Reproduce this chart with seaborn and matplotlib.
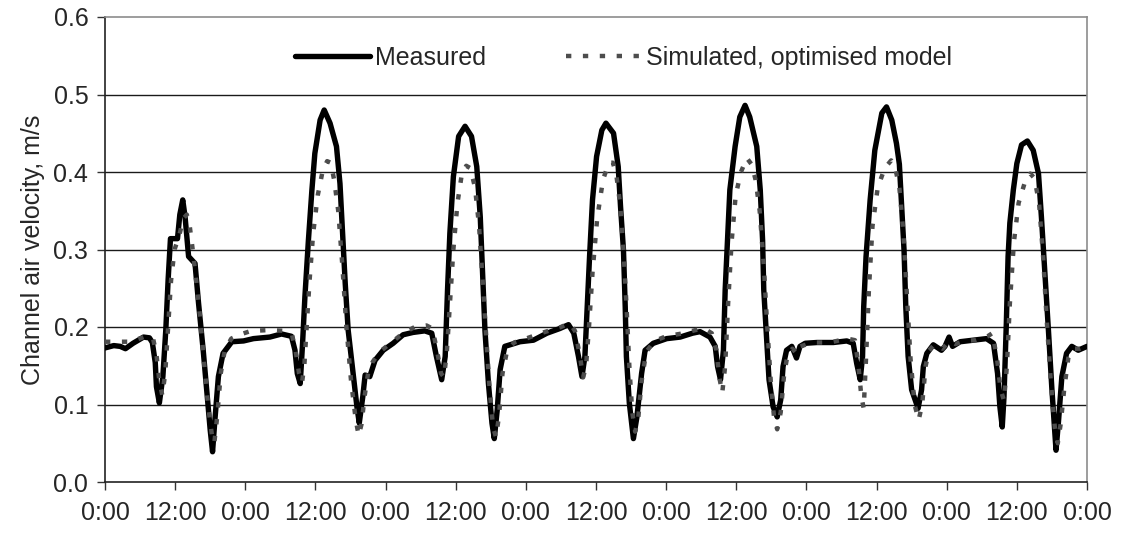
import numpy as np
import pandas as pd
import matplotlib
matplotlib.use("Agg")
import matplotlib.pyplot as plt
import seaborn as sns

# hours since start (7 days) and channel air velocity, m/s
measured_hours = [
    0, 1.5, 2.6, 3.5, 4.8, 6.6, 7.6, 8.1, 8.6, 8.8, 9.3, 9.9, 10.4, 10.8, 11.2, 12.4, 12.8, 13.3, 13.7, 14.3,
    15.4, 16.0, 16.8, 17.5, 18.0, 18.4, 18.8, 19.4, 20.2, 21.7, 23.7, 25.4, 28.2, 30.2, 31.9, 32.5, 32.9, 33.4,
    33.8, 34.2, 34.8, 35.4, 35.9, 36.8, 37.5, 38.5, 39.6, 40.2, 40.7, 41.1, 41.6, 42.5, 43.1, 43.5, 44.1, 44.5,
    45.3, 46.2, 47.6, 49.3, 51.0, 52.7, 54.7, 55.9, 56.7, 57.6, 58.2, 58.6, 59.0, 59.6, 60.5, 61.6, 62.7, 63.6,
    64.2, 64.6, 65.0, 65.6, 66.2, 66.6, 67.1, 67.6, 68.4, 71.0, 73.3, 75.6, 77.8, 79.3, 80.2, 81.0, 81.6, 82.1,
    82.5, 82.9, 83.4, 84.1, 85.0, 85.7, 87.0, 87.8, 88.2, 88.7, 89.0, 89.2, 89.7, 90.4, 91.0, 91.8, 92.4, 93.8,
    96.1, 98.4, 100.5, 101.8, 103.5, 104.4, 104.8, 105.3, 105.8, 106.1, 106.5, 106.9, 107.8, 108.6, 109.5, 110.3,
    111.5, 112.1, 112.5, 112.7, 113.2, 113.6, 114.3, 115.0, 115.6, 116.0, 116.6, 117.5, 118.3, 118.9, 119.8,
    121.8, 124.6, 126.9, 128.0, 128.6, 129.2, 129.6, 129.8, 130.2, 130.9, 131.7, 132.9, 133.7, 134.6, 135.4,
    135.9, 136.3, 136.7, 137.0, 137.4, 138.0, 139.1, 139.7, 140.0, 140.6, 141.7, 143.1, 143.7, 144.4, 145.0,
    146.3, 148.5, 150.8, 152.0, 152.7, 153.1, 153.5, 153.8, 154.2, 154.5, 154.8, 155.4, 156.0, 156.8, 157.8,
    158.8, 159.7, 160.2, 160.8, 161.4, 162.0, 162.7, 163.1, 163.7, 164.5, 165.4, 166.5, 168.0,
]
measured_vel = [
    0.173, 0.176, 0.175, 0.172, 0.179, 0.187, 0.186, 0.180, 0.154, 0.123, 0.102, 0.136, 0.196, 0.261, 0.314, 0.314, 0.345, 0.364, 0.342, 0.291,
    0.282, 0.231, 0.170, 0.110, 0.067, 0.039, 0.080, 0.136, 0.166, 0.181, 0.182, 0.185, 0.187, 0.191, 0.188, 0.170, 0.140, 0.127,
    0.179, 0.239, 0.312, 0.377, 0.424, 0.467, 0.480, 0.463, 0.433, 0.385, 0.312, 0.256, 0.196, 0.136, 0.097, 0.076, 0.110, 0.138,
    0.136, 0.157, 0.170, 0.179, 0.190, 0.193, 0.195, 0.192, 0.162, 0.132, 0.162, 0.248, 0.321, 0.394, 0.446, 0.459, 0.446, 0.407,
    0.342, 0.269, 0.196, 0.127, 0.076, 0.056, 0.093, 0.145, 0.175, 0.181, 0.183, 0.192, 0.198, 0.203, 0.192, 0.162, 0.136, 0.162,
    0.226, 0.291, 0.364, 0.420, 0.454, 0.463, 0.450, 0.407, 0.355, 0.299, 0.226, 0.162, 0.102, 0.056, 0.084, 0.140, 0.170, 0.179,
    0.185, 0.187, 0.192, 0.194, 0.187, 0.175, 0.149, 0.132, 0.170, 0.248, 0.312, 0.377, 0.433, 0.471, 0.486, 0.471,
    0.433, 0.377, 0.312, 0.248, 0.183, 0.132, 0.097, 0.084, 0.106, 0.149, 0.170, 0.175, 0.160, 0.175, 0.179,
    0.180, 0.180, 0.182, 0.179, 0.153, 0.132, 0.162, 0.226, 0.291, 0.364, 0.428, 0.476, 0.484, 0.467, 0.437,
    0.410, 0.355, 0.299, 0.226, 0.162, 0.119, 0.095, 0.119, 0.149, 0.166, 0.177, 0.170, 0.175, 0.187, 0.175,
    0.181, 0.183, 0.185, 0.179, 0.140, 0.097, 0.071, 0.110, 0.205, 0.291, 0.334, 0.377, 0.411, 0.435, 0.440,
    0.428, 0.398, 0.342, 0.269, 0.196, 0.119, 0.041, 0.076, 0.136, 0.166, 0.175, 0.170, 0.175,
]

simulated_hours = [
    0, 2, 4, 5.5, 7, 8.2, 8.8, 9.3, 9.8, 10.3, 10.8, 11.3, 11.9, 12.7, 13.4, 14.0, 14.5, 15.0, 15.6, 16.3,
    17.0, 17.7, 18.3, 18.7, 19.2, 19.8, 20.5, 21.6, 23, 25, 28, 31, 32, 32.6, 33.2, 33.7, 34.1, 34.5, 35,
    35.6, 36.4, 37.2, 38.0, 38.6, 39.2, 39.9, 40.6, 41.3, 42.1, 42.9, 43.4, 43.9, 44.4, 45.0, 45.8, 47.0,
    49, 51, 53, 55, 56.0, 56.8, 57.5, 58.0, 58.5, 59.0, 59.6, 60.3, 61.0, 61.8, 62.5, 63.3, 64.0, 64.6,
    65.2, 65.8, 66.4, 66.9, 67.4, 68.0, 68.8, 70, 72, 75, 78, 79.5, 80.4, 81.2, 81.8, 82.3, 82.8, 83.4,
    84.2, 85.2, 86.2, 86.9, 87.5, 88.1, 88.7, 89.2, 89.7, 90.2, 90.7, 91.2, 91.8, 92.6, 94, 96, 99, 101,
    102.5, 103.8, 104.6, 105.1, 105.6, 106.1, 106.6, 107.2, 107.9, 108.8, 109.8, 110.6, 111.3, 112.0,
    112.7, 113.3, 113.9, 114.5, 115.0, 115.6, 116.2, 116.8, 117.6, 118.4, 119, 121, 124, 127, 128.3,
    128.9, 129.4, 129.8, 130.2, 130.7, 131.3, 132.2, 133.4, 134.5, 135.2, 135.9, 136.6, 137.2, 137.8,
    138.5, 139.2, 139.8, 140.4, 141, 142, 143.3, 144.4, 145.5, 147, 149, 151, 151.8, 152.6, 153.2, 153.8,
    154.3, 154.8, 155.5, 156.3, 157.3, 158.3, 159.0, 159.8, 160.5, 161.1, 161.8, 162.5, 163.0, 163.5,
    164.1, 164.8, 165.6, 166.8, 168,
]
simulated_vel = [
    0.181, 0.181, 0.181, 0.184, 0.188, 0.186, 0.165, 0.130, 0.112, 0.140, 0.200, 0.260, 0.300, 0.318, 0.340, 0.345, 0.330, 0.300, 0.260, 0.210,
    0.150, 0.095, 0.060, 0.050, 0.085, 0.140, 0.170, 0.185, 0.190, 0.195, 0.196, 0.195, 0.190, 0.170, 0.140, 0.128, 0.150, 0.200, 0.260,
    0.320, 0.370, 0.400, 0.414, 0.412, 0.390, 0.350, 0.280, 0.200, 0.130, 0.080, 0.060, 0.075, 0.110, 0.140, 0.155, 0.168,
    0.180, 0.192, 0.200, 0.202, 0.198, 0.170, 0.140, 0.135, 0.170, 0.230, 0.300, 0.360, 0.395, 0.408, 0.405, 0.380, 0.330, 0.260,
    0.190, 0.120, 0.070, 0.058, 0.085, 0.140, 0.170, 0.180, 0.185, 0.193, 0.200, 0.205, 0.195, 0.165, 0.135, 0.150, 0.200, 0.270,
    0.340, 0.390, 0.412, 0.412, 0.395, 0.360, 0.300, 0.230, 0.150, 0.090, 0.065, 0.080, 0.130, 0.168, 0.182, 0.188, 0.192, 0.196,
    0.198, 0.192, 0.170, 0.135, 0.115, 0.150, 0.230, 0.310, 0.370, 0.400, 0.418, 0.410, 0.390, 0.350,
    0.280, 0.200, 0.130, 0.080, 0.068, 0.090, 0.140, 0.165, 0.172, 0.165, 0.175, 0.180, 0.180, 0.185, 0.183,
    0.150, 0.110, 0.095, 0.160, 0.250, 0.330, 0.380, 0.405, 0.415, 0.405, 0.380, 0.320, 0.240, 0.160,
    0.100, 0.080, 0.100, 0.150, 0.170, 0.178, 0.172, 0.182, 0.178, 0.182, 0.183, 0.188, 0.192, 0.160, 0.120, 0.105,
    0.150, 0.230, 0.310, 0.360, 0.385, 0.398, 0.392, 0.360, 0.290, 0.210, 0.130, 0.070, 0.050, 0.075,
    0.120, 0.160, 0.172, 0.172, 0.175,
]

x_ticks = list(range(0, 169, 12))
x_labels = ["0:00" if t % 24 == 0 else "12:00" for t in x_ticks]
y_ticks = [0.0, 0.1, 0.2, 0.3, 0.4, 0.5, 0.6]

sns.set_style("white")
plt.rcParams["font.family"] = ["Liberation Sans", "DejaVu Sans"]

meas = pd.DataFrame({"hours": measured_hours, "velocity": measured_vel})
sim = pd.DataFrame({"hours": simulated_hours, "velocity": simulated_vel})

fig = plt.figure(figsize=(11.21, 5.33), dpi=100)
ax = fig.add_axes([105 / 1121, 51 / 533, 982 / 1121, 465 / 533])

# horizontal gridlines
for y in y_ticks[1:-1]:
    ax.axhline(y, color="#1a1a1a", lw=1.0, zorder=1)

sns.lineplot(data=meas, x="hours", y="velocity", ax=ax, color="black", lw=3.9,
             label="Measured", sort=False, estimator=None, zorder=3)
sns.lineplot(data=sim, x="hours", y="velocity", ax=ax, color="#4d4d4d", lw=3.2,
             label="Simulated, optimised model", sort=False, estimator=None, zorder=4)

lines = ax.get_lines()
lines[-2].set_solid_capstyle("round")
lines[-2].set_solid_joinstyle("round")
lines[-1].set_linestyle((0, (1.2, 2.6)))
lines[-1].set_dash_capstyle("butt")

ax.set_xlim(0, 168)
ax.set_ylim(0, 0.6)
ax.set_xticks(x_ticks)
ax.set_xticklabels(x_labels)
ax.set_yticks(y_ticks)
ax.set_yticklabels([f"{v:.1f}" for v in y_ticks])
ax.set_xlabel("")
ax.set_ylabel("Channel air velocity, m/s", fontsize=18, labelpad=6)
ax.tick_params(axis="both", labelsize=18, direction="out", length=6, width=1,
               color="#333333", left=True, bottom=True)
ax.tick_params(axis="x", pad=8)
ax.tick_params(axis="y", pad=6)

for side in ["left", "bottom"]:
    ax.spines[side].set_color("#222222")
    ax.spines[side].set_linewidth(1.2)
for side in ["top", "right"]:
    ax.spines[side].set_visible(True)
    ax.spines[side].set_color("#8c8c8c")
    ax.spines[side].set_linewidth(1.2)

ax.legend(loc="center", bbox_to_anchor=(0.528, 0.912), ncol=2, frameon=False,
          fontsize=18, handlelength=3.0, handletextpad=0.2, columnspacing=3.2,
          borderpad=0)

fig.savefig("out.png", dpi=100)
